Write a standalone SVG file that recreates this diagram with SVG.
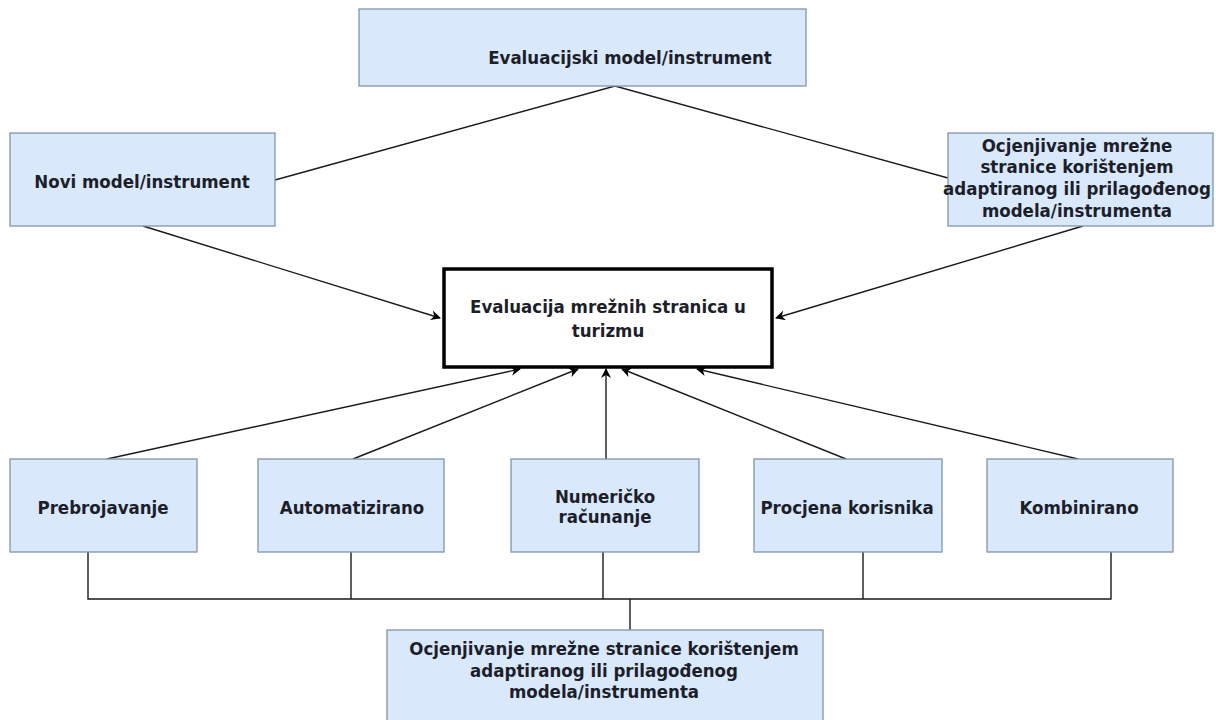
<svg xmlns="http://www.w3.org/2000/svg" width="1216" height="720" viewBox="0 0 1216 720">
<defs>
<style>
.box{fill:#dae8fc;stroke:#8094ad;stroke-width:1.3}
.main{fill:#ffffff;stroke:#000000;stroke-width:3.5}
.t{font-family:"DejaVu Sans Condensed","DejaVu Sans",sans-serif;font-size:18.5px;font-weight:bold;fill:#1c1f2a;text-anchor:middle}
.c{fill:none;stroke:#1a1a1a;stroke-width:1.4}
</style>
<marker id="ah" viewBox="0 0 10 10" refX="9" refY="5" markerWidth="10" markerHeight="10" markerUnits="userSpaceOnUse" orient="auto">
<path d="M0,0 L10,5 L0,10 L3,5 Z" fill="#000"/>
</marker>
</defs>
<rect width="1216" height="720" fill="#ffffff"/>
<g id="connectors">
<polyline class="c" points="275,180 615,86 948,178"/>
<line class="c" x1="143" y1="226" x2="440" y2="318" marker-end="url(#ah)"/>
<line class="c" x1="1083" y1="226" x2="776" y2="318" marker-end="url(#ah)"/>
<line class="c" x1="107" y1="459" x2="520" y2="369" marker-end="url(#ah)"/>
<line class="c" x1="353" y1="459" x2="578" y2="369" marker-end="url(#ah)"/>
<line class="c" x1="606" y1="459" x2="606" y2="369" marker-end="url(#ah)"/>
<line class="c" x1="846" y1="459" x2="622" y2="369" marker-end="url(#ah)"/>
<line class="c" x1="1078" y1="459" x2="697" y2="369" marker-end="url(#ah)"/>
<polyline class="c" points="88,552 88,599 1111,599 1111,552"/>
<line class="c" x1="351" y1="552" x2="351" y2="599"/>
<line class="c" x1="603" y1="552" x2="603" y2="599"/>
<line class="c" x1="863" y1="552" x2="863" y2="599"/>
<line class="c" x1="630" y1="599" x2="630" y2="630"/>
</g>
<g id="top">
<rect class="box" x="359" y="9" width="447" height="77"/>
<text class="t" x="630" y="64">Evaluacijski model/instrument</text>
</g>
<g id="novi">
<rect class="box" x="10" y="133" width="265" height="93"/>
<text class="t" x="142" y="188">Novi model/instrument</text>
</g>
<g id="ocjena-right">
<rect class="box" x="948" y="133" width="265" height="93"/>
<text class="t" x="1077" y="152">Ocjenjivanje mrežne</text>
<text class="t" x="1077" y="173">stranice korištenjem</text>
<text class="t" x="1077" y="195">adaptiranog ili prilagođenog</text>
<text class="t" x="1077" y="217">modela/instrumenta</text>
</g>
<g id="central">
<rect class="main" x="444" y="269" width="328" height="98"/>
<text class="t" x="608" y="313">Evaluacija mrežnih stranica u</text>
<text class="t" x="608" y="337">turizmu</text>
</g>
<g id="prebrojavanje">
<rect class="box" x="10" y="459" width="187" height="93"/>
<text class="t" x="103" y="514">Prebrojavanje</text>
</g>
<g id="automatizirano">
<rect class="box" x="258" y="459" width="186" height="93"/>
<text class="t" x="352" y="514">Automatizirano</text>
</g>
<g id="numericko">
<rect class="box" x="511" y="459" width="188" height="93"/>
<text class="t" x="605" y="503">Numeričko</text>
<text class="t" x="605" y="523">računanje</text>
</g>
<g id="procjena">
<rect class="box" x="754" y="459" width="188" height="93"/>
<text class="t" x="847" y="514">Procjena korisnika</text>
</g>
<g id="kombinirano">
<rect class="box" x="987" y="459" width="186" height="93"/>
<text class="t" x="1079" y="514">Kombinirano</text>
</g>
<g id="ocjena-bottom">
<rect class="box" x="387" y="630" width="436" height="95"/>
<text class="t" x="604" y="655">Ocjenjivanje mrežne stranice korištenjem</text>
<text class="t" x="604" y="677">adaptiranog ili prilagođenog</text>
<text class="t" x="604" y="698">modela/instrumenta</text>
</g>
</svg>
